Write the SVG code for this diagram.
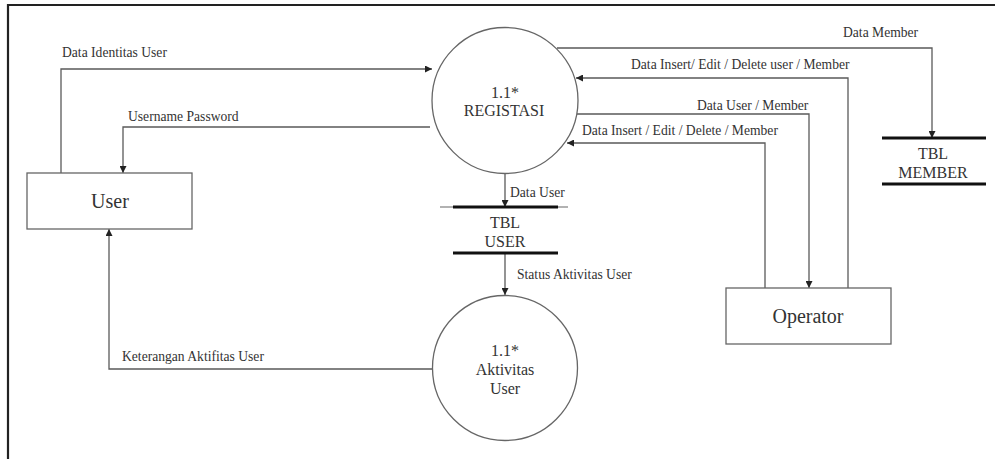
<svg xmlns="http://www.w3.org/2000/svg" width="995" height="459" viewBox="0 0 995 459" font-family="Liberation Serif, Times New Roman, serif">
  <style>
    .frame { stroke: #222; stroke-width: 2.2; fill: none; }
    .flow { stroke: #5a5a5a; stroke-width: 1.3; fill: none; }
    .shape { stroke: #666; stroke-width: 1.3; fill: #fff; }
    .store { stroke: #111; stroke-width: 3.2; }
    .thin { stroke: #666; stroke-width: 1.2; }
    .lbl { font-size: 13.6px; fill: #333; }
    .node { font-size: 16px; fill: #333; text-anchor: middle; }
    .ent { font-size: 20px; fill: #333; text-anchor: middle; }
  </style>
  <defs>
    <marker id="arr" viewBox="0 0 8 8" refX="8" refY="4" markerWidth="7" markerHeight="7" markerUnits="userSpaceOnUse" orient="auto">
      <path d="M0,0 L8,4 L0,8 z" fill="#222"/>
    </marker>
  </defs>

  <rect width="995" height="459" fill="#fff"/>

  <!-- outer frame -->
  <path class="frame" d="M8,459 V5 H995"/>

  <!-- connectors -->
  <g id="connectors">
    <!-- User -> Registrasi -->
    <path class="flow" d="M61,173 V69 H432" marker-end="url(#arr)"/>
    <text class="lbl" x="62" y="57">Data Identitas User</text>
    <!-- Registrasi -> User -->
    <path class="flow" d="M430,127 H123 V173" marker-end="url(#arr)"/>
    <text class="lbl" x="128" y="121">Username Password</text>
    <!-- Registrasi -> TBL MEMBER -->
    <path class="flow" d="M557,48 H932 V138" marker-end="url(#arr)"/>
    <text class="lbl" x="843" y="37">Data Member</text>
    <!-- Operator -> Registrasi -->
    <path class="flow" d="M848,288 V78 H576" marker-end="url(#arr)"/>
    <text class="lbl" x="631" y="69">Data Insert/ Edit / Delete user / Member</text>
    <!-- Registrasi -> Operator -->
    <path class="flow" d="M577,114 H809 V288" marker-end="url(#arr)"/>
    <text class="lbl" x="697" y="110">Data User / Member</text>
    <!-- Operator -> Registrasi -->
    <path class="flow" d="M765,288 V143 H567" marker-end="url(#arr)"/>
    <text class="lbl" x="582" y="135">Data Insert / Edit / Delete / Member</text>
    <!-- Registrasi -> TBL USER -->
    <path class="flow" d="M505,173 V207" marker-end="url(#arr)"/>
    <text class="lbl" x="510" y="197">Data User</text>
    <!-- TBL USER -> Aktivitas -->
    <path class="flow" d="M505,254 V295" marker-end="url(#arr)"/>
    <text class="lbl" x="517" y="279">Status Aktivitas User</text>
    <!-- Aktivitas -> User -->
    <path class="flow" d="M432,369 H109 V229" marker-end="url(#arr)"/>
    <text class="lbl" x="122" y="361">Keterangan Aktifitas User</text>
  </g>

  <!-- external entity: User -->
  <g id="user">
    <rect class="shape" x="27" y="173" width="165" height="56"/>
    <text class="ent" x="110" y="208">User</text>
  </g>

  <!-- external entity: Operator -->
  <g id="operator">
    <rect class="shape" x="726" y="288" width="165" height="56"/>
    <text class="ent" x="808" y="323">Operator</text>
  </g>

  <!-- process 1.1 Registrasi -->
  <g id="registrasi">
    <circle class="shape" cx="505" cy="100.5" r="73"/>
    <text class="node" x="505" y="98">1.1*</text>
    <text class="node" x="504" y="116">REGISTASI</text>
  </g>

  <!-- process 1.1 Aktivitas User -->
  <g id="aktivitas">
    <circle class="shape" cx="505" cy="368" r="72.5"/>
    <text class="node" x="505" y="356">1.1*</text>
    <text class="node" x="505" y="375">Aktivitas</text>
    <text class="node" x="505" y="394">User</text>
  </g>

  <!-- data store: TBL USER -->
  <g id="tbl-user">
    <line class="thin" x1="440" y1="207" x2="568" y2="207"/>
    <line class="store" x1="453" y1="207" x2="558" y2="207"/>
    <line class="store" x1="453" y1="253" x2="558" y2="253"/>
    <text class="node" x="505" y="228">TBL</text>
    <text class="node" x="505" y="247">USER</text>
  </g>

  <!-- data store: TBL MEMBER -->
  <g id="tbl-member">
    <line class="store" x1="882" y1="138" x2="986" y2="138"/>
    <line class="store" x1="882" y1="184" x2="986" y2="184"/>
    <text class="node" x="933" y="159">TBL</text>
    <text class="node" x="933" y="178">MEMBER</text>
  </g>
</svg>
